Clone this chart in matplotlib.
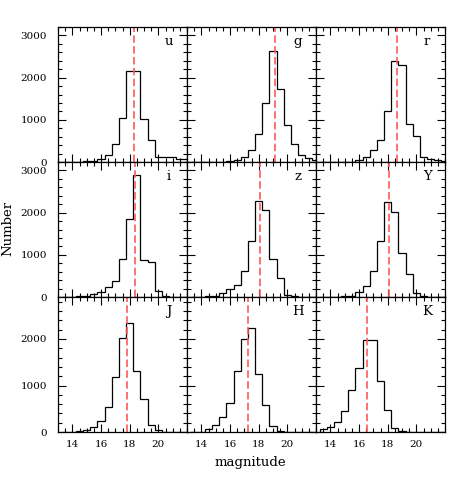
import numpy as np
import matplotlib
matplotlib.use("Agg")
import matplotlib.pyplot as plt
from matplotlib.ticker import MultipleLocator

plt.rcParams['font.family'] = ['DejaVu Serif']

# bin edges (0.5 mag bins) shared by all bands
edges = np.arange(13.25, 22.26, 0.5)

bands = ['u', 'g', 'r', 'i', 'z', 'Y', 'J', 'H', 'K']

# counts per bin, centres 13.5 ... 22.0
n_u = [0, 0, 5, 15, 30, 80, 157, 430, 1035, 2157, 2157, 1020, 525, 118, 118, 118, 80, 80]
n_g = [0, 0, 5, 8, 12, 25, 55, 118, 275, 667, 1390, 2630, 1725, 885, 430, 157, 100, 55]
n_r = [0, 0, 0, 5, 10, 40, 118, 275, 533, 1200, 2390, 2290, 900, 627, 118, 78, 40, 30]
n_i = [0, 0, 25, 35, 63, 125, 243, 384, 910, 1850, 2886, 870, 831, 141, 20, 10, 5, 0]
n_z = [0, 0, 25, 35, 86, 180, 282, 620, 1318, 2282, 2070, 910, 463, 47, 15, 5, 0, 0]
n_Y = [0, 0, 10, 25, 35, 110, 259, 612, 1325, 2260, 2008, 1043, 557, 86, 31, 10, 0, 0]
n_J = [0, 10, 30, 43, 115, 235, 530, 1190, 2030, 2340, 1310, 710, 150, 43, 10, 0, 0, 0]
n_H = [0, 10, 57, 150, 315, 630, 1310, 2000, 2240, 1240, 580, 130, 30, 10, 0, 0, 0, 0]
n_K = [57, 115, 207, 457, 900, 1385, 1970, 1985, 1100, 470, 80, 30, 10, 0, 0, 0, 0, 0]

counts = [n_u, n_g, n_r, n_i, n_z, n_Y, n_J, n_H, n_K]

# dashed reference magnitude in each band
mag_ref = [18.33, 19.12, 18.67, 18.37, 18.09, 18.12, 17.84, 17.24, 16.54]

row_ymax = [3200, 3200, 2900]
xticks = [14, 16, 18, 20]

fig, axes = plt.subplots(3, 3, figsize=(4.69, 4.91), dpi=100, sharex=True)
fig.subplots_adjust(left=0.1237, right=0.949, top=0.945, bottom=0.120,
                    wspace=0, hspace=0)

for k, ax in enumerate(axes.flat):
    row, col = divmod(k, 3)
    ax.stairs(counts[k], edges, color='black', lw=0.9)
    ax.axvline(mag_ref[k], color='#ff5a5a', lw=1.2, dashes=(4.5, 2))
    ax.text(0.86, 0.89, bands[k], transform=ax.transAxes, ha='center',
            va='center', fontsize=9.5)
    ax.set_xlim(13, 22)
    ax.set_ylim(0, row_ymax[row])
    ax.set_xticks(xticks)
    ax.xaxis.set_minor_locator(MultipleLocator(0.5))
    ax.yaxis.set_major_locator(MultipleLocator(1000))
    ax.yaxis.set_minor_locator(MultipleLocator(200))
    ax.tick_params(which='both', direction='in', top=True, right=True,
                   labelsize=7.5, width=0.8)
    ax.tick_params(which='major', length=6)
    ax.tick_params(which='minor', length=3)
    ax.tick_params(axis='y', which='major', pad=8)
    ax.tick_params(axis='x', which='major', pad=5.5)
    for s in ax.spines.values():
        s.set_linewidth(0.9)
    if col != 0:
        ax.tick_params(labelleft=False)
    if row != 2:
        ax.tick_params(labelbottom=False)

fig.text(0.017, 0.535, 'Number', rotation=90, ha='center', va='center', fontsize=9.5)
fig.text(0.534, 0.059, 'magnitude', ha='center', va='center', fontsize=9.5)

fig.savefig('out.png', dpi=100)
